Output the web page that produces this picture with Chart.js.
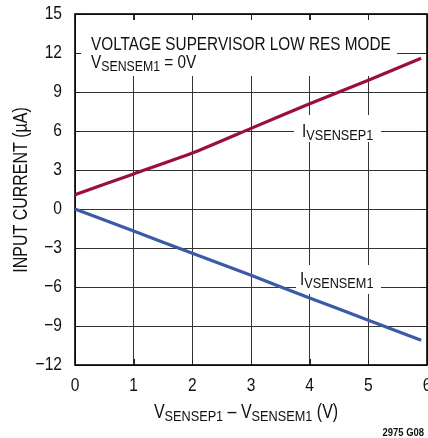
<!DOCTYPE html>
<html lang="en">
<head>
    <meta charset="UTF-8">
    <title>Input Current vs Differential Voltage</title>
    <script src="https://cdn.jsdelivr.net/npm/chart.js"></script>
    <style>
        html, body { margin: 0; padding: 0; background: #fff; }
        #wrap { width: 428px; height: 438px; position: relative; }
    </style>
</head>
<body>
    <div id="wrap"><canvas id="currentChart"></canvas></div>

    <script>
        // values
        const diffVoltage = [0, 1, 2, 3, 4, 5, 5.9];
        const currentSensep1 = [1.1, 2.7, 4.3, 6.2, 8.1, 9.9, 11.6];
        const currentSensem1 = [0, -1.7, -3.4, -5.1, -6.85, -8.55, -10.1];

        const xTicks = [0, 1, 2, 3, 4, 5, 6];
        const yTicks = [-12, -9, -6, -3, 0, 3, 6, 9, 12, 15];

        const FONT = '"Liberation Sans", Arial, sans-serif';
        const SX = 0.82; // squeeze text to look like a condensed face
        const RED = '#9a0f3c';
        const BLUE = '#3b5aa8';

        // draws text with parts that can be subscripts: [[text, isSub], ...]
        function drawRich(ctx, x, y, parts, size, subSize, align, baseline, weight) {
            const w = weight ? weight + ' ' : '';
            let total = 0;
            parts.forEach(p => {
                ctx.font = w + (p[1] ? subSize : size) + 'px ' + FONT;
                total += ctx.measureText(p[0]).width * SX;
            });
            let cx = align === 'center' ? x - total / 2 : (align === 'right' ? x - total : x);
            ctx.textAlign = 'left';
            ctx.textBaseline = baseline || 'alphabetic';
            parts.forEach(p => {
                ctx.font = w + (p[1] ? subSize : size) + 'px ' + FONT;
                ctx.save();
                ctx.translate(cx, p[1] ? y + 3 : y);
                ctx.scale(SX, 1);
                ctx.fillText(p[0], 0, 0);
                ctx.restore();
                cx += ctx.measureText(p[0]).width * SX;
            });
        }

        const framePlugin = {
            id: 'frame',
            beforeDatasetsDraw(chart) {
                const ctx = chart.ctx;
                const a = chart.chartArea;
                const xs = chart.scales.x, ys = chart.scales.y;
                ctx.save();

                // white boxes behind the labels
                ctx.fillStyle = '#fff';
                ctx.fillRect(81, 20, 316, 56);
                ctx.fillRect(294, 115, 87, 27);
                ctx.fillRect(296, 265, 85, 29);

                // inward ticks on all four sides
                ctx.strokeStyle = '#222';
                ctx.lineWidth = 1;
                ctx.beginPath();
                xTicks.forEach(v => {
                    const px = Math.round(xs.getPixelForValue(v)) + 0.5;
                    ctx.moveTo(px, a.top); ctx.lineTo(px, a.top + 6);
                    ctx.moveTo(px, a.bottom); ctx.lineTo(px, a.bottom - 6);
                });
                yTicks.forEach(v => {
                    const py = Math.round(ys.getPixelForValue(v)) + 0.5;
                    ctx.moveTo(a.left, py); ctx.lineTo(a.left + 6, py);
                    ctx.moveTo(a.right, py); ctx.lineTo(a.right - 6, py);
                });
                ctx.stroke();

                // frame
                ctx.strokeStyle = '#000';
                ctx.lineWidth = 1.6;
                ctx.strokeRect(a.left, a.top, a.right - a.left, a.bottom - a.top);

                // texts inside the plot
                ctx.fillStyle = '#111';
                drawRich(ctx, 91, 50, [['VOLTAGE SUPERVISOR LOW RES MODE', false]], 18.7, 15);
                drawRich(ctx, 91, 68, [['V', false], ['SENSEM1', true], [' = 0V', false]], 18.7, 15);
                drawRich(ctx, 302, 137, [['I', false], ['VSENSEP1', true]], 18.7, 15.5);
                drawRich(ctx, 300, 285, [['I', false], ['VSENSEM1', true]], 18.7, 15.5);
                ctx.restore();
            },
            afterDraw(chart) {
                const ctx = chart.ctx;
                const a = chart.chartArea;
                const xs = chart.scales.x, ys = chart.scales.y;
                ctx.save();
                ctx.fillStyle = '#111';

                // tick labels
                xTicks.forEach(v => {
                    drawRich(ctx, xs.getPixelForValue(v), 386, [[String(v), false]], 19, 15, 'center', 'middle');
                });
                yTicks.forEach(v => {
                    drawRich(ctx, a.left - 13, ys.getPixelForValue(v), [[String(v).replace('-', '\u2212'), false]], 19, 15, 'right', 'middle');
                });

                // axis titles
                drawRich(ctx, 246, 418, [['V', false], ['SENSEP1', true], [' \u2013 V', false], ['SENSEM1', true], [' (V)', false]], 19.5, 15.5, 'center');

                ctx.translate(27, 190);
                ctx.rotate(-Math.PI / 2);
                drawRich(ctx, 0, 0, [['INPUT CURRENT (\u00b5A)', false]], 19.5, 15, 'center');
                ctx.setTransform(1, 0, 0, 1, 0, 0);

                drawRich(ctx, 424, 436, [['2975 G08', false]], 11.5, 10, 'right', 'alphabetic', 'bold');
                ctx.restore();
            }
        };

        const ctx = document.getElementById('currentChart').getContext('2d');
        new Chart(ctx, {
            type: 'line',
            data: {
                datasets: [
                    {
                        label: 'IVSENSEP1',
                        data: diffVoltage.map((v, i) => ({ x: v, y: currentSensep1[i] })),
                        borderColor: RED,
                        borderWidth: 3.2,
                        pointRadius: 0,
                        tension: 0.2
                    },
                    {
                        label: 'IVSENSEM1',
                        data: diffVoltage.map((v, i) => ({ x: v, y: currentSensem1[i] })),
                        borderColor: BLUE,
                        borderWidth: 3.2,
                        pointRadius: 0,
                        tension: 0.2
                    }
                ]
            },
            options: {
                responsive: true,
                maintainAspectRatio: false,
                animation: false,
                layout: { padding: { top: 14, right: 1, left: 0, bottom: 0 } },
                plugins: { legend: { display: false }, tooltip: { enabled: false } },
                scales: {
                    x: {
                        type: 'linear',
                        min: 0, max: 6,
                        afterBuildTicks: s => { s.ticks = xTicks.map(v => ({ value: v })); },
                        afterFit: s => { s.height = 73; s.paddingLeft = 0; s.paddingRight = 0; },
                        grid: { color: '#333', lineWidth: 1, drawTicks: false },
                        border: { display: false },
                        ticks: { display: false }
                    },
                    y: {
                        type: 'linear',
                        min: -12, max: 15,
                        afterBuildTicks: s => { s.ticks = yTicks.map(v => ({ value: v })); },
                        afterFit: s => { s.width = 75; s.paddingTop = 0; s.paddingBottom = 0; },
                        grid: { color: '#333', lineWidth: 1, drawTicks: false },
                        border: { display: false },
                        ticks: { display: false }
                    }
                }
            },
            plugins: [framePlugin]
        });
    </script>
</body>
</html>
